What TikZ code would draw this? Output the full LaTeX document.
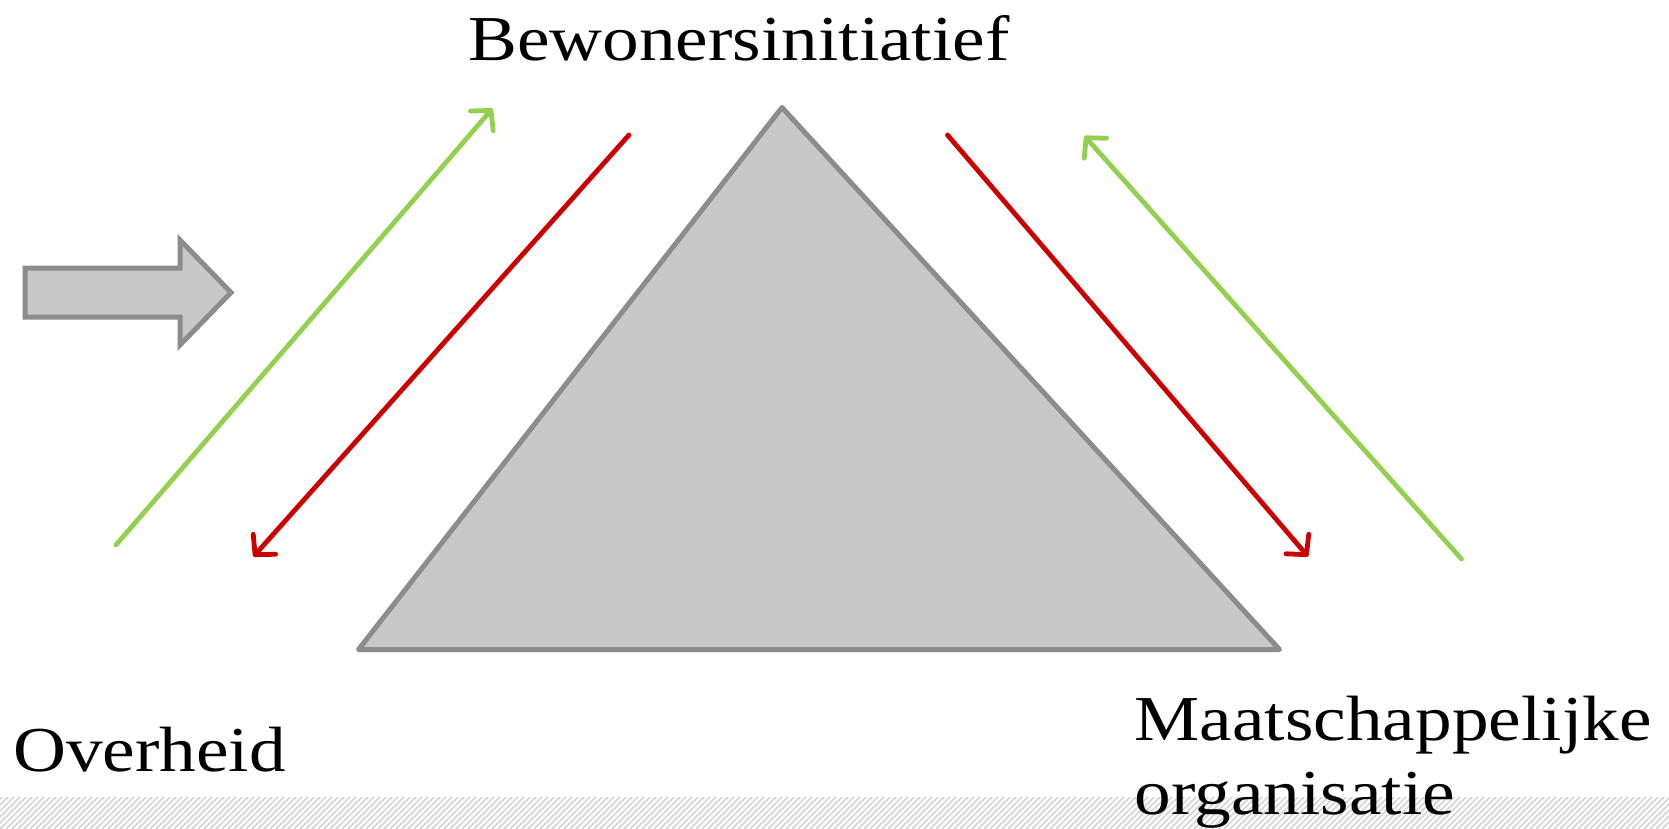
\documentclass[tikz,border=0pt]{standalone}
\usepackage{fontspec}
\setmainfont[FakeStretch=1.145]{Liberation Serif}
\usetikzlibrary{arrows.meta}
\definecolor{triFill}{HTML}{C8C8C8}
\definecolor{triLine}{HTML}{8C8C8C}
\definecolor{grn}{HTML}{92D050}
\definecolor{rd}{HTML}{CC0000}
\definecolor{hatch}{HTML}{D4D4D4}
\tikzset{
  lbl/.style={inner sep=0pt, anchor=base west, font=\fontsize{64}{73}\selectfont},
  shapeline/.style={draw=triLine, fill=triFill, line width=5pt, line join=round},
  flow/.style={line width=4.8pt, line cap=round, -{Straight Barb[length=14pt,width=30pt,line cap=round,line join=round]}},
}
\begin{document}
\begin{tikzpicture}[x=1pt,y=-1pt]
\useasboundingbox (0,0) rectangle (1669,829);
% hatched stripe
\begin{scope}
\clip (0,797) rectangle (1669,829);
\foreach \i in {-40,...,290} {
  \draw[hatch, line width=1.6pt] ({\i*6},829) -- ({\i*6+34},795);
}
\end{scope}
% triangle
\draw[shapeline] (782,107.5) -- (1279.5,649.5) -- (358.5,649.5) -- cycle;
% block arrow
\draw[shapeline, line join=miter] (25,268) -- (180,268) -- (180,240) -- (231,292.5) -- (180,345) -- (180,317) -- (25,317) -- cycle;
% coordinates
\coordinate (g1s) at (116,545);
\coordinate (g1e) at (492.5,108.5);
\coordinate (r1s) at (629,135);
\coordinate (r1e) at (253.5,556.5);
\coordinate (r2s) at (947.5,135);
\coordinate (r2e) at (1308,556.5);
\coordinate (g2s) at (1461.5,559);
\coordinate (g2e) at (1084.5,136);
\draw[flow, grn] (g1s) -- (g1e);
\draw[flow, rd] (r1s) -- (r1e);
\draw[flow, rd] (r2s) -- (r2e);
\draw[flow, grn] (g2s) -- (g2e);
% labels
\node[lbl] (top) at (468,61) {Bewonersinitiatief};
\node[lbl] (ov) at (13,771.5) {Overheid};
\node[lbl] (m1) at (1134.5,740.5) {Maatschappelijke};
\node[lbl] (m2) at (1134.5,814) {organisatie};
\end{tikzpicture}
\end{document}
